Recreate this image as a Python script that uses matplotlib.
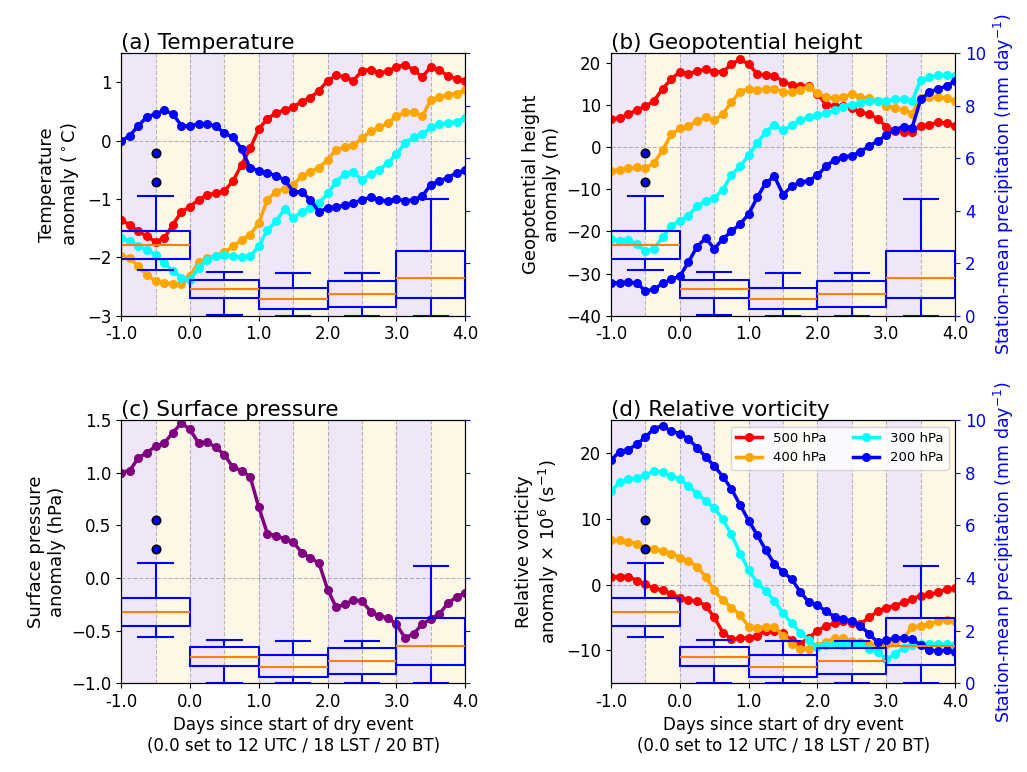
import numpy as np
import matplotlib
matplotlib.use('Agg')
import matplotlib.pyplot as plt

# 3-hourly time axis (days since start of dry event)
days = np.linspace(-1, 4, 41)

# (a) Temperature anomaly (deg C)
t500 = [-1.35, -1.45, -1.55, -1.64, -1.73, -1.67, -1.44, -1.22, -1.13, -1.01,
        -0.93, -0.90, -0.86, -0.69, -0.41, -0.13, 0.20, 0.38, 0.47, 0.53,
        0.58, 0.67, 0.74, 0.86, 1.03, 1.12, 1.10, 1.03, 1.20, 1.22,
        1.16, 1.19, 1.27, 1.30, 1.22, 1.09, 1.27, 1.21, 1.11, 1.06, 1.03]
t400 = [-1.97, -2.01, -2.15, -2.30, -2.41, -2.44, -2.45, -2.46, -2.32, -2.08,
        -2.01, -1.98, -1.91, -1.81, -1.70, -1.61, -1.41, -1.01, -0.87, -0.82,
        -0.75, -0.61, -0.53, -0.46, -0.33, -0.15, -0.11, -0.08, 0.05, 0.16,
        0.23, 0.30, 0.42, 0.49, 0.49, 0.42, 0.70, 0.75, 0.79, 0.81, 0.87]
t300 = [-1.67, -1.71, -1.81, -1.87, -1.95, -2.10, -2.23, -2.35, -2.38, -2.18,
        -2.04, -1.98, -1.95, -1.98, -2.00, -1.98, -1.81, -1.53, -1.38, -1.17,
        -1.32, -1.22, -1.15, -1.07, -0.90, -0.70, -0.57, -0.54, -0.67, -0.57,
        -0.50, -0.38, -0.23, -0.04, 0.06, 0.11, 0.23, 0.29, 0.30, 0.33, 0.39]
t200 = [-0.01, 0.09, 0.26, 0.41, 0.46, 0.52, 0.46, 0.26, 0.25, 0.29,
        0.29, 0.25, 0.13, 0.06, -0.14, -0.47, -0.51, -0.55, -0.60, -0.67,
        -0.87, -0.88, -1.01, -1.22, -1.15, -1.14, -1.10, -1.07, -1.01, -0.97,
        -1.01, -1.04, -0.99, -1.04, -1.01, -0.95, -0.75, -0.69, -0.63, -0.55, -0.50]

# (b) Geopotential height anomaly (m)
z500 = [6.6, 6.9, 7.7, 8.8, 9.6, 11.0, 13.8, 16.1, 17.8, 17.3,
        18.0, 18.4, 17.8, 17.8, 19.6, 20.8, 19.6, 17.3, 17.0, 16.9,
        15.5, 14.7, 14.5, 14.4, 12.6, 10.0, 9.8, 9.7, 9.2, 8.3,
        7.7, 6.7, 4.8, 3.8, 3.6, 3.6, 5.0, 5.3, 5.8, 5.7, 5.0]
z400 = [-5.8, -5.4, -5.0, -4.8, -5.0, -3.8, -0.7, 3.0, 4.4, 5.0,
        6.1, 7.1, 6.3, 7.9, 10.6, 13.1, 13.8, 13.4, 13.8, 13.8,
        13.0, 13.1, 13.6, 14.3, 12.8, 11.8, 11.6, 11.8, 12.6, 11.8,
        11.6, 10.8, 9.8, 9.2, 8.7, 7.9, 11.6, 11.8, 11.8, 11.6, 11.0]
z300 = [-21.8, -22.2, -22.0, -23.0, -24.7, -24.1, -21.3, -18.7, -17.5, -16.3,
        -14.0, -12.8, -12.0, -10.1, -6.6, -4.6, -1.9, 0.9, 3.6, 5.3,
        3.9, 5.2, 6.3, 7.1, 7.5, 8.1, 8.7, 9.5, 10.0, 10.5,
        10.8, 11.0, 11.0, 11.25, 11.25, 10.8, 15.9, 16.5, 17.0, 17.0, 16.9]
z200 = [-32.2, -32.2, -32.0, -32.3, -34.1, -33.75, -32.3, -31.4, -30.6, -27.3,
        -23.6, -21.6, -24.1, -21.8, -20.0, -18.3, -15.9, -11.9, -8.5, -7.0,
        -11.3, -9.3, -8.4, -8.0, -6.7, -4.6, -3.0, -2.3, -2.1, -1.1,
        0.2, 1.4, 2.8, 4.1, 4.8, 4.6, 11.25, 13.0, 13.75, 14.4, 15.7]

# (c) Surface pressure anomaly (hPa)
psfc = [1.00, 1.02, 1.14, 1.19, 1.25, 1.28, 1.38, 1.47, 1.41, 1.28,
        1.29, 1.24, 1.17, 1.05, 1.02, 0.96, 0.67, 0.42, 0.40, 0.37,
        0.34, 0.24, 0.19, 0.14, -0.11, -0.28, -0.25, -0.21, -0.22, -0.32,
        -0.36, -0.38, -0.44, -0.57, -0.53, -0.44, -0.39, -0.34, -0.24, -0.18, -0.14]

# (d) Relative vorticity anomaly (x 1e6 s-1)
v500 = [1.1, 1.2, 1.2, 0.6, 0.05, -0.6, -0.9, -1.4, -2.0, -2.4,
        -2.5, -3.2, -5.0, -7.3, -8.3, -8.2, -8.1, -7.8, -7.0, -7.0,
        -7.4, -8.5, -9.0, -8.1, -7.0, -6.3, -5.9, -5.5, -5.9, -6.0,
        -5.0, -4.1, -3.5, -3.2, -2.7, -2.2, -1.7, -1.5, -1.2, -0.7, -0.6]
v400 = [6.7, 6.7, 6.5, 6.2, 5.6, 5.4, 5.1, 4.7, 4.1, 3.6,
        2.7, 1.2, -0.9, -2.4, -3.5, -4.6, -6.4, -6.6, -6.4, -6.4,
        -7.8, -9.1, -9.8, -9.8, -9.3, -8.7, -8.2, -8.2, -8.6, -8.8,
        -9.0, -9.2, -9.1, -8.8, -8.1, -6.5, -6.3, -6.0, -5.6, -5.4, -5.5]
v300 = [14.2, 15.5, 16.0, 16.2, 16.7, 17.2, 17.1, 16.5, 16.0, 15.0,
        13.8, 12.7, 11.6, 9.9, 7.6, 4.7, 2.2, 0.3, -1.0, -2.5,
        -4.4, -5.9, -7.3, -8.5, -9.5, -9.2, -9.1, -9.2, -9.0, -9.1,
        -9.8, -10.3, -11.3, -10.6, -9.6, -9.2, -9.0, -9.0, -9.1, -9.1, -9.2]
v200 = [18.9, 20.2, 20.5, 21.3, 22.4, 23.7, 24.1, 23.3, 22.9, 22.1,
        20.8, 19.4, 18.0, 16.4, 14.5, 12.1, 9.7, 7.5, 5.2, 3.1,
        1.9, 0.8, -1.1, -2.7, -3.1, -4.1, -4.9, -5.3, -5.5, -6.3,
        -7.5, -8.8, -8.5, -8.1, -8.2, -8.3, -9.2, -10.0, -10.1, -10.0, -10.3]

level_labels = ['500 hPa', '400 hPa', '300 hPa', '200 hPa']
level_colors = ['red', 'orange', 'cyan', 'blue']

# Station-mean precipitation box plots (mm/day), one per day
box_pos = [-0.5, 0.5, 1.5, 2.5, 3.5]
box_whislo = [1.74, 0.02, 0.0, 0.0, 0.0]
box_q1 = [2.16, 0.67, 0.25, 0.35, 0.68]
box_med = [2.70, 1.01, 0.62, 0.84, 1.42]
box_q3 = [3.22, 1.37, 1.06, 1.33, 2.46]
box_whishi = [4.56, 1.65, 1.61, 1.62, 4.44]
box_fliers = [[5.1, 6.2], [], [], [], []]

xticks = [-1, 0, 1, 2, 3, 4]
xticklabels = ['-1.0', '0.0', '1.0', '2.0', '3.0', '4.0']
xlabel = 'Days since start of dry event\n(0.0 set to 12 UTC / 18 LST / 20 BT)'
precip_label = 'Station-mean precipitation (mm day$^{-1}$)'

fig = plt.figure(figsize=(10.27, 7.72), dpi=100)

PURPLE_BG = '#efe6f8'
CREAM_BG = '#fdf8e6'


def panel(rect, title, ylabel, ylim, yticks, series,
          right_labels, show_xlabel, legend=False):
    ax = fig.add_axes(rect)
    # alternating half-day background bands
    for k in range(10):
        x0 = -1 + 0.5 * k
        ax.axvspan(x0, x0 + 0.5, color=PURPLE_BG if k % 2 == 0 else CREAM_BG,
                   lw=0, zorder=0)
    for xv in np.arange(-0.5, 4.0, 0.5):
        ax.axvline(xv, color='grey', ls='--', lw=0.8, alpha=0.55, zorder=1)
    ax.axhline(0, color='grey', ls='--', lw=0.8, alpha=0.55, zorder=1)
    for vals, col, lab in series:
        ax.plot(days, vals, '-o', color=col, lw=2.5, ms=5.5, label=lab,
                zorder=3)
    ax.set_xlim(-1, 4)
    ax.set_ylim(*ylim)
    ax.set_xticks(xticks)
    ax.set_xticklabels(xticklabels)
    ax.set_yticks(yticks)
    ax.tick_params(labelsize=12)
    ax.set_ylabel(ylabel, fontsize=13)
    ax.set_title(title, loc='left', fontsize=15.5, pad=3)
    if show_xlabel:
        ax.set_xlabel(xlabel, fontsize=12)
    if legend:
        ax.legend(ncol=2, fontsize=9.5, loc='upper right', framealpha=0.8)

    ax2 = ax.twinx()
    stats = []
    for i in range(len(box_pos)):
        stats.append(dict(whislo=box_whislo[i], q1=box_q1[i], med=box_med[i],
                          q3=box_q3[i], whishi=box_whishi[i],
                          fliers=box_fliers[i]))
    ax2.bxp(stats, positions=box_pos, widths=1.0, manage_ticks=False,
            boxprops=dict(color='blue', lw=1.5),
            whiskerprops=dict(color='blue', lw=1.5),
            capprops=dict(color='blue', lw=1.5),
            medianprops=dict(color='#ff7f0e', lw=1.5),
            flierprops=dict(marker='o', markerfacecolor='blue',
                            markeredgecolor='black', markersize=6,
                            markeredgewidth=1.2))
    ax2.set_ylim(0, 10)
    ax2.set_yticks([0, 2, 4, 6, 8, 10])
    ax2.tick_params(axis='y', colors='blue', labelsize=12,
                    labelright=right_labels)
    ax2.set_xlim(-1, 4)
    if right_labels:
        ax2.set_ylabel(precip_label, color='blue', fontsize=12.5)
    return ax, ax2


series_t = list(zip([t500, t400, t300, t200], level_colors, level_labels))
series_z = list(zip([z500, z400, z300, z200], level_colors, level_labels))
series_v = list(zip([v500, v400, v300, v200], level_colors, level_labels))

panel([0.118, 0.591, 0.335, 0.340], '(a) Temperature',
      'Temperature\nanomaly ($^\\circ$C)', (-3, 1.5),
      [-3, -2, -1, 0, 1], series_t, False, False)
panel([0.595, 0.591, 0.335, 0.340], '(b) Geopotential height',
      'Geopotential height\nanomaly (m)', (-40, 22.2),
      [-40, -30, -20, -10, 0, 10, 20], series_z, True, False)
panel([0.118, 0.115, 0.335, 0.341], '(c) Surface pressure',
      'Surface pressure\nanomaly (hPa)', (-1.0, 1.5),
      [-1.0, -0.5, 0.0, 0.5, 1.0, 1.5],
      [(psfc, 'purple', None)], False, True)
panel([0.595, 0.115, 0.335, 0.341], '(d) Relative vorticity',
      'Relative vorticity\nanomaly \u00d7 10$^6$ (s$^{-1}$)', (-15, 25),
      [-10, 0, 10, 20], series_v, True, True, legend=True)

fig.savefig('out.png', dpi=100)
